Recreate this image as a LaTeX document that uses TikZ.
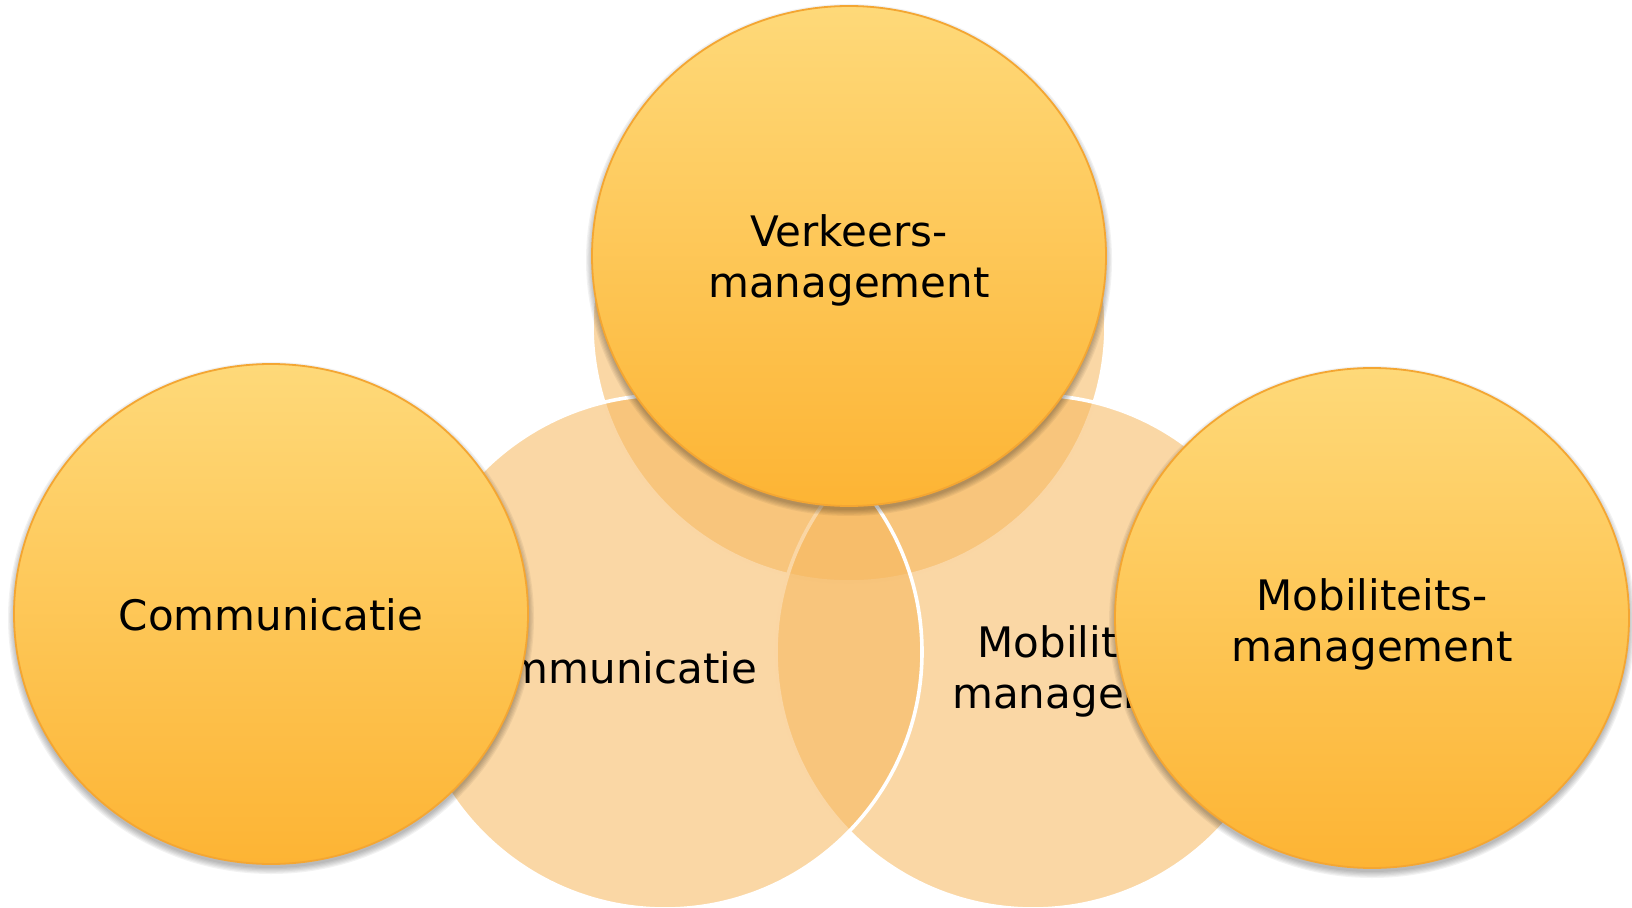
\documentclass[tikz,border=0pt]{standalone}
\usepackage{fontspec}
\setmainfont{DejaVu Sans}
\definecolor{bgbase}{RGB}{246,182,91}
\definecolor{fTop}{RGB}{254,217,121}
\definecolor{fBot}{RGB}{253,180,52}
\definecolor{fBorder}{RGB}{244,166,50}
\tikzset{
  bgcirc/.style={fill=bgbase, fill opacity=0.55, draw=white, line width=1.8pt},
  frontfill/.style={top color=fTop, bottom color=fBot},
  frontedge/.style={draw=fBorder, line width=0.9pt},
  shadowc/.style={fill=black, fill opacity=0.05},
  lbl/.style={font=\fontsize{21}{25.5}\selectfont, align=center, text=black, inner sep=0pt},
}
\newcommand{\frontdisk}[2]{%
  \foreach \k in {0,...,5}{
    \fill[shadowc] (#1,#2) ellipse [x radius={128.5pt+\k*0.6pt}, y radius={125pt+\k*0.6pt}];
  }
}
\begin{document}
\begin{tikzpicture}[x=0.5pt,y=-0.5pt]
\useasboundingbox (0,0) rectangle (1632,908);
% background circles
\filldraw[bgcirc] (849,325) circle [radius=128.5pt];
\filldraw[bgcirc] (1033,652) circle [radius=128.5pt];
\filldraw[bgcirc] (665,652) circle [radius=128.5pt];
\node[lbl] (bgcom) at (605,668) {Communicatie};
\node[lbl] (bgmob) at (1093,671) {Mobiliteits-\\management};
% front circles: shadows
\frontdisk{849}{260}
\frontdisk{271}{618}
\frontdisk{1372}{622}
% front circles
\shade[frontfill] (849,256) ellipse [x radius=128.5pt, y radius=125pt];
\draw[frontedge] (849,256) ellipse [x radius=128.5pt, y radius=125pt];
\shade[frontfill] (271,614) ellipse [x radius=128.5pt, y radius=125pt];
\draw[frontedge] (271,614) ellipse [x radius=128.5pt, y radius=125pt];
\shade[frontfill] (1372,618) ellipse [x radius=128.5pt, y radius=125pt];
\draw[frontedge] (1372,618) ellipse [x radius=128.5pt, y radius=125pt];
\node[lbl] (verk) at (849,260) {Verkeers-\\management};
\node[lbl] (com) at (271,615) {Communicatie};
\node[lbl] (mob) at (1372,624) {Mobiliteits-\\management};
\end{tikzpicture}
\end{document}
